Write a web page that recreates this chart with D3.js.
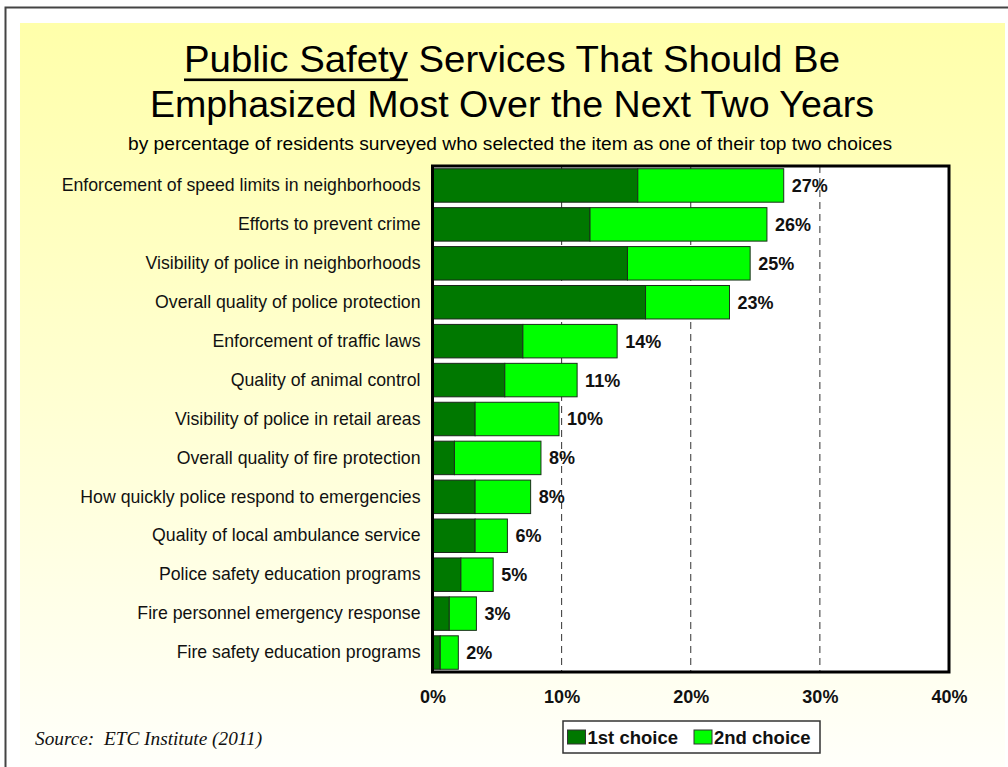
<!DOCTYPE html>
<html>
<head>
<meta charset="utf-8">
<script src="https://cdn.jsdelivr.net/npm/d3@7"></script>
<style>
  html, body { margin: 0; padding: 0; background: #ffffff; }
  svg { display: block; }
</style>
</head>
<body>
<svg id="chart" width="1008" height="767"></svg>
<script>
const categories = [
  "Enforcement of speed limits in neighborhoods",
  "Efforts to prevent crime",
  "Visibility of police in neighborhoods",
  "Overall quality of police protection",
  "Enforcement of traffic laws",
  "Quality of animal control",
  "Visibility of police in retail areas",
  "Overall quality of fire protection",
  "How quickly police respond to emergencies",
  "Quality of local ambulance service",
  "Police safety education programs",
  "Fire personnel emergency response",
  "Fire safety education programs"
];
const firstChoice  = [15.9, 12.2, 15.1, 16.5, 7.0, 5.6, 3.3, 1.7, 3.3, 3.3, 2.2, 1.3, 0.6];
const secondChoice = [11.3, 13.7, 9.5, 6.5, 7.3, 5.6, 6.5, 6.7, 4.3, 2.5, 2.5, 2.1, 1.4];
const totalLabels  = ["27%", "26%", "25%", "23%", "14%", "11%", "10%", "8%", "8%", "6%", "5%", "3%", "2%"];
const xTicks = [0, 10, 20, 30, 40];
const seriesNames = ["1st choice", "2nd choice"];
const seriesColors = ["#007800", "#00ff00"];

(function () {
const svg = d3.select("#chart");
const W = 1008, H = 767;
const SANS = "'Liberation Sans', Arial, sans-serif";

// background gradient
const defs = svg.append("defs");
const grad = defs.append("linearGradient").attr("id", "bg").attr("x1", 0).attr("y1", 0).attr("x2", 0).attr("y2", 1);
grad.append("stop").attr("offset", "0%").attr("stop-color", "#ffffaa");
grad.append("stop").attr("offset", "100%").attr("stop-color", "#fffffa");

svg.append("rect").attr("x", 0).attr("y", 0).attr("width", W).attr("height", H).attr("fill", "#ffffff");
svg.append("rect").attr("x", 20).attr("y", 23).attr("width", 985).attr("height", H - 23).attr("fill", "url(#bg)");
svg.append("path").attr("d", `M5.5,${H} V7.5 H${W}`).attr("fill", "none").attr("stroke", "#444").attr("stroke-width", 2);

// Title
const cx = 512;
const t1 = svg.append("text").attr("x", cx).attr("y", 72).attr("text-anchor", "middle")
  .attr("font-family", SANS).attr("font-size", 36.5).attr("fill", "#000")
  .attr("textLength", 656).attr("lengthAdjust", "spacingAndGlyphs")
  .text("Public Safety Services That Should Be");
svg.append("text").attr("x", cx).attr("y", 117).attr("text-anchor", "middle")
  .attr("font-family", SANS).attr("font-size", 36.5).attr("fill", "#000")
  .attr("textLength", 724).attr("lengthAdjust", "spacingAndGlyphs")
  .text("Emphasized Most Over the Next Two Years");
{
  const n = t1.node();
  const a = n.getExtentOfChar(0), b = n.getExtentOfChar(12);
  svg.append("rect").attr("x", a.x).attr("y", 78.5).attr("width", b.x + b.width - a.x).attr("height", 2.6).attr("fill", "#000");
}
svg.append("text").attr("x", 510).attr("y", 150).attr("text-anchor", "middle")
  .attr("font-family", SANS).attr("font-size", 17.5).attr("fill", "#000")
  .attr("textLength", 764).attr("lengthAdjust", "spacingAndGlyphs")
  .text("by percentage of residents surveyed who selected the item as one of their top two choices");

// Plot
const pLeft = 432.5, pRight = 949, pTop = 166, pBottom = 672;
const x = d3.scaleLinear().domain([0, 40]).range([pLeft, pRight]);
const y = d3.scaleBand().domain(categories).range([pTop, pBottom]).paddingInner(0.14).paddingOuter(0.07);

svg.append("rect").attr("x", pLeft).attr("y", pTop).attr("width", pRight - pLeft).attr("height", pBottom - pTop).attr("fill", "#fff");

// gridlines
svg.append("g").selectAll("line").data(xTicks.filter(d => d > 0 && d < 40)).join("line")
  .attr("x1", d => x(d)).attr("x2", d => x(d)).attr("y1", pTop).attr("y2", pBottom)
  .attr("stroke", "#333").attr("stroke-width", 1).attr("stroke-dasharray", "7,5");

// bars
const rows = categories.map((c, i) => ({ c, a: firstChoice[i], b: secondChoice[i], lab: totalLabels[i] }));
const g = svg.append("g");
g.selectAll("rect.s1").data(rows).join("rect").attr("class", "s1")
  .attr("x", x(0)).attr("y", d => y(d.c)).attr("width", d => x(d.a) - x(0)).attr("height", y.bandwidth())
  .attr("fill", seriesColors[0]).attr("stroke", "#1a261a").attr("stroke-width", 1);
g.selectAll("rect.s2").data(rows).join("rect").attr("class", "s2")
  .attr("x", d => x(d.a)).attr("y", d => y(d.c)).attr("width", d => x(d.a + d.b) - x(d.a)).attr("height", y.bandwidth())
  .attr("fill", seriesColors[1]).attr("stroke", "#1a301a").attr("stroke-width", 1);

// value labels
g.selectAll("text.val").data(rows).join("text").attr("class", "val")
  .attr("x", d => x(d.a + d.b) + 8).attr("y", d => y(d.c) + y.bandwidth() / 2).attr("dy", "0.36em")
  .attr("font-family", SANS).attr("font-weight", "bold").attr("font-size", 18)
  .attr("fill", "#111").text(d => d.lab);

// category labels
const yAxis = d3.axisLeft(y).tickSize(0).tickPadding(12);
const ya = svg.append("g").attr("transform", `translate(${pLeft},0)`).call(yAxis);
ya.select(".domain").remove();
ya.selectAll("text").attr("font-family", SANS).attr("font-size", 17.7).attr("fill", "#111");

// plot border
svg.append("rect").attr("x", pLeft).attr("y", pTop).attr("width", pRight - pLeft).attr("height", pBottom - pTop)
  .attr("fill", "none").attr("stroke", "#000").attr("stroke-width", 3);

// x axis
const xAxis = d3.axisBottom(x).tickValues(xTicks).tickFormat(d => d + "%").tickSize(0).tickPadding(18);
const xa = svg.append("g").attr("transform", `translate(0,${pBottom})`).call(xAxis);
xa.select(".domain").remove();
xa.selectAll("text").attr("font-family", SANS).attr("font-weight", "bold").attr("font-size", 18).attr("fill", "#111");

// legend
const lg = svg.append("g");
lg.append("rect").attr("x", 563).attr("y", 721).attr("width", 257).attr("height", 32).attr("fill", "#fff").attr("stroke", "#333").attr("stroke-width", 1.5);
const legX = [567.5, 694];
seriesNames.forEach((s, i) => {
  lg.append("rect").attr("x", legX[i]).attr("y", 730).attr("width", 18).attr("height", 14)
    .attr("fill", seriesColors[i]).attr("stroke", "#333").attr("stroke-width", 1);
  lg.append("text").attr("x", legX[i] + 20).attr("y", 737).attr("dy", "0.36em")
    .attr("font-family", SANS).attr("font-weight", "bold").attr("font-size", 18.5)
    .attr("fill", "#111").text(s);
});

// source
svg.append("text").attr("x", 35).attr("y", 745)
  .attr("font-family", "'Liberation Serif', 'Times New Roman', serif").attr("font-style", "italic").attr("font-size", 19.3)
  .attr("fill", "#111").style("white-space", "pre")
  .text("Source:  ETC Institute (2011)");
})();
</script>
</body>
</html>
